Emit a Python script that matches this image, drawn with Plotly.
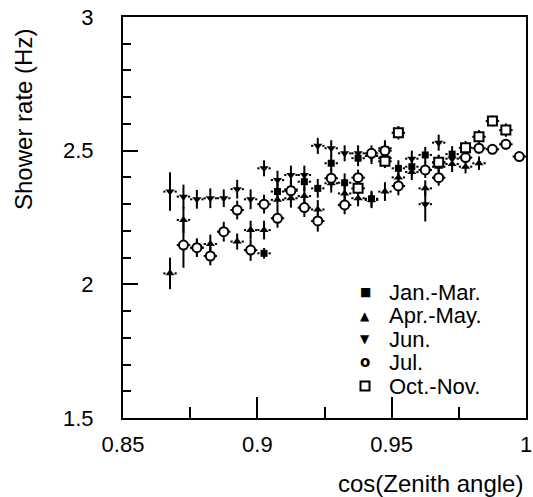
import plotly.graph_objects as go

# bin centres in cos(zenith)
cos_jan = [0.8775, 0.9025, 0.9075, 0.9125, 0.9175, 0.9225, 0.9275, 0.9325, 0.9375,
           0.9425, 0.9475, 0.9525, 0.9575, 0.9625, 0.9675, 0.9725]
rate_jan = [2.137, 2.116, 2.347, 2.355, 2.384, 2.359, 2.453, 2.380, 2.472,
            2.320, 2.472, 2.434, 2.440, 2.484, 2.455, 2.487]
err_jan = [0.030, 0.020, 0.035, 0.035, 0.035, 0.035, 0.030, 0.035, 0.030,
           0.030, 0.030, 0.030, 0.035, 0.030, 0.030, 0.030]

cos_apr = [0.8675, 0.8725, 0.8825, 0.8925, 0.8975, 0.9025, 0.9075, 0.9125, 0.9175,
           0.9225, 0.9275, 0.9325, 0.9375, 0.9425, 0.9475, 0.9525, 0.9575, 0.9625,
           0.9675, 0.9725, 0.9775, 0.9825]
rate_apr = [2.041, 2.241, 2.151, 2.160, 2.203, 2.203, 2.316, 2.322, 2.330,
            2.280, 2.378, 2.340, 2.322, 2.315, 2.347, 2.400, 2.420, 2.359,
            2.440, 2.450, 2.440, 2.453]
err_apr = [0.059, 0.050, 0.035, 0.030, 0.035, 0.035, 0.035, 0.035, 0.035,
           0.035, 0.035, 0.035, 0.030, 0.030, 0.035, 0.030, 0.030, 0.030,
           0.030, 0.030, 0.025, 0.025]

cos_jun = [0.8675, 0.8725, 0.8775, 0.8825, 0.8875, 0.8925, 0.8975, 0.9025, 0.9075,
           0.9125, 0.9175, 0.9225, 0.9275, 0.9325, 0.9375, 0.9425, 0.9475, 0.9575,
           0.9625, 0.9675, 0.9725]
rate_jun = [2.347, 2.328, 2.318, 2.322, 2.322, 2.356, 2.318, 2.434, 2.390,
            2.409, 2.409, 2.518, 2.509, 2.490, 2.490, 2.480, 2.509, 2.470,
            2.300, 2.530, 2.470]
err_jun = [0.072, 0.045, 0.035, 0.037, 0.033, 0.035, 0.037, 0.030, 0.035,
           0.035, 0.035, 0.030, 0.030, 0.030, 0.030, 0.030, 0.030, 0.030,
           0.065, 0.030, 0.030]

cos_jul = [0.8725, 0.8775, 0.8825, 0.8875, 0.8925, 0.8975, 0.9025, 0.9075, 0.9125,
           0.9175, 0.9225, 0.9275, 0.9325, 0.9375, 0.9425, 0.9475, 0.9525, 0.9625,
           0.9675, 0.9775, 0.9825, 0.9875, 0.9925, 0.9975]
rate_jul = [2.147, 2.137, 2.106, 2.197, 2.278, 2.128, 2.300, 2.247, 2.350,
            2.287, 2.237, 2.397, 2.297, 2.399, 2.490, 2.500, 2.368, 2.428,
            2.399, 2.474, 2.509, 2.505, 2.524, 2.478]
err_jul = [0.085, 0.035, 0.035, 0.037, 0.035, 0.040, 0.035, 0.035, 0.035,
           0.035, 0.040, 0.035, 0.035, 0.030, 0.030, 0.030, 0.035, 0.030,
           0.030, 0.020, 0.020, 0.015, 0.020, 0.010]

cos_oct = [0.9375, 0.9475, 0.9525, 0.9675, 0.9775, 0.9825, 0.9875, 0.9925]
rate_oct = [2.359, 2.460, 2.567, 2.457, 2.511, 2.552, 2.611, 2.577]
err_oct = [0.025, 0.025, 0.025, 0.025, 0.025, 0.025, 0.020, 0.025]

bin_half = 0.0025  # half width of a cos(zenith) bin

labels = ["Jan.-Mar.", "Apr.-May.", "Jun.", "Jul.", "Oct.-Nov."]
glyphs = ["\u25a0", "\u25b2", "\u25bc", "<b>o</b>", None]

FONT = "Liberation Sans, Arial, sans-serif"
W, H = 533, 497
L, R, T, B = 123, 7, 17, 79
PW, PH = W - L - R, H - T - B
XGAP = 4.5 / PW * 0.15  # ROOT leaves a gap round the marker: ~4.5 px in x units


def px2paper(x, y):
    return (x - L) / PW, (H - B - y) / PH


series = [
    (cos_jan, rate_jan, err_jan, dict(symbol="square", size=7, color="black")),
    (cos_apr, rate_apr, err_apr, dict(symbol="triangle-up", size=8, color="black")),
    (cos_jun, rate_jun, err_jun, dict(symbol="triangle-down", size=8, color="black")),
    (cos_jul, rate_jul, err_jul, dict(symbol="circle", size=9, color="white",
                                      line=dict(color="black", width=2))),
    (cos_oct, rate_oct, err_oct, dict(symbol="square", size=9, color="white",
                                      line=dict(color="black", width=2))),
]

fig = go.Figure()
for (xs, ys, es, mk), name in zip(series, labels):
    # horizontal bars: two short pieces either side of the marker
    hx, hy = [], []
    for x, y in zip(xs, ys):
        hx += [x - bin_half, x - XGAP, None, x + XGAP, x + bin_half, None]
        hy += [y, y, None, y, y, None]
    fig.add_trace(go.Scatter(x=hx, y=hy, mode="lines", line=dict(color="black", width=2),
                             showlegend=False, hoverinfo="skip"))
    fig.add_trace(go.Scatter(
        x=xs, y=ys, mode="markers", name=name, marker=mk,
        error_y=dict(type="data", array=es, color="black", thickness=2, width=0),
        showlegend=False,
    ))

# legend drawn as text, ROOT-style tight spacing
leg_rows = [292, 315.5, 339, 362, 386]
glyph_size = [12, 12, 12, 15, 12]
for g, lab, yrow, gs in zip(glyphs, labels, leg_rows, glyph_size):
    gx, gy = px2paper(365, yrow)
    tx, _ = px2paper(387, yrow)
    if g is None:
        # open square key, drawn as a box so the stroke matches the markers
        x0, y0 = px2paper(360.5, yrow + 4.5)
        x1, y1 = px2paper(369.5, yrow - 4.5)
        fig.add_shape(type="rect", xref="paper", yref="paper", x0=x0, y0=y0, x1=x1, y1=y1,
                      line=dict(color="black", width=2), fillcolor="white")
    else:
        fig.add_annotation(x=gx, y=gy, xref="paper", yref="paper", text=g, showarrow=False,
                           xanchor="center", yanchor="middle",
                           font=dict(family="DejaVu Sans", size=gs, color="black"))
    fig.add_annotation(x=tx, y=gy, xref="paper", yref="paper", text=lab, showarrow=False,
                       xanchor="left", yanchor="middle",
                       font=dict(family=FONT, size=22, color="black"))

# axis titles (ROOT puts them at the end of the axis)
xt, yt = px2paper(525, 483)
fig.add_annotation(x=xt, y=yt, xref="paper", yref="paper", text="cos(Zenith angle)",
                   showarrow=False, xanchor="right", yanchor="middle",
                   font=dict(family=FONT, size=24, color="black"))
xt, yt = px2paper(23, 120)
fig.add_annotation(x=xt, y=yt, xref="paper", yref="paper", text="Shower rate (Hz)",
                   showarrow=False, textangle=-90, xanchor="center", yanchor="middle",
                   font=dict(family=FONT, size=24, color="black"))

fig.update_xaxes(range=[0.85, 1.0], tick0=0.85, dtick=0.05, ticks="inside", ticklen=21,
                 tickwidth=2, tickcolor="black", showline=True, linewidth=2, linecolor="black",
                 mirror=True, showgrid=False, zeroline=False, ticklabelstandoff=6,
                 ticklabeloverflow="allow", automargin=False,
                 tickfont=dict(family=FONT, size=22, color="black"),
                 minor=dict(dtick=0.025, ticks="inside", ticklen=11, tickwidth=2,
                            tickcolor="black", showgrid=False))
fig.update_yaxes(range=[1.5, 3.0], tick0=1.5, dtick=0.5, ticks="inside", ticklen=15,
                 tickwidth=2, tickcolor="black", showline=True, linewidth=2, linecolor="black",
                 mirror=True, showgrid=False, zeroline=False, ticklabelstandoff=23,
                 ticklabeloverflow="allow", automargin=False,
                 tickfont=dict(family=FONT, size=22, color="black"),
                 minor=dict(dtick=0.1, ticks="inside", ticklen=8, tickwidth=2,
                            tickcolor="black", showgrid=False))

fig.update_layout(width=W, height=H, margin=dict(l=L, r=R, t=T, b=B),
                  plot_bgcolor="white", paper_bgcolor="white", showlegend=False,
                  font=dict(family=FONT, color="black"))

# drop the default page margin so the figure sits in the window corner
fig.write_html("out.html", config={"displayModeBar": False},
               post_script="document.body.style.margin='0';document.body.style.overflow='hidden';")
